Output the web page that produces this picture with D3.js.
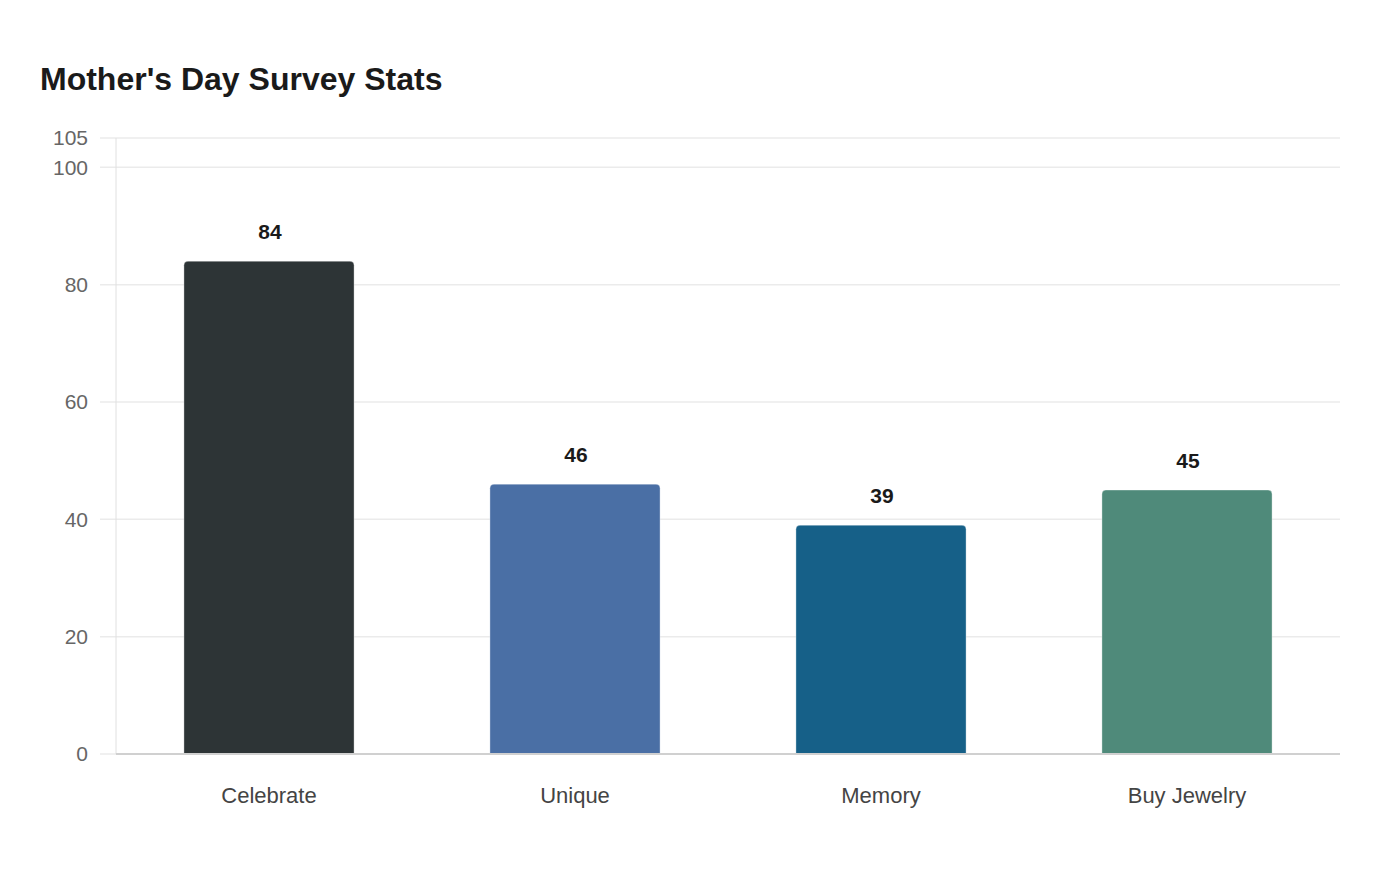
<!DOCTYPE html>
<html>
<head>
<meta charset="utf-8">
<script src="https://cdn.jsdelivr.net/npm/d3@7"></script>
<style>
  body { margin: 0; background: #fff; }
  text { font-family: "Liberation Sans", Arial, sans-serif; }
</style>
</head>
<body>
<div id="chart"></div>
<script>
var categories = ["Celebrate", "Unique", "Memory", "Buy Jewelry"];
var values = [84, 46, 39, 45];
var colors = ["#2d3436", "#4a6fa5", "#166088", "#4f8a7a"];
var yTicks = [0, 20, 40, 60, 80, 100, 105];

var width = 1400, height = 880;
var margin = { top: 138, right: 60, bottom: 126, left: 116 };
var innerW = width - margin.left - margin.right,
    innerH = height - margin.top - margin.bottom;

var svg = d3.select("#chart").append("svg")
    .attr("width", width)
    .attr("height", height);

svg.append("text")
    .attr("x", 40)
    .attr("y", 90)
    .style("font-size", "32px")
    .style("font-weight", "bold")
    .style("fill", "#1a1a1a")
    .text("Mother's Day Survey Stats");

var g = svg.append("g")
    .attr("transform", "translate(" + margin.left + "," + margin.top + ")");

var x = d3.scaleBand().domain(categories).range([0, innerW]).paddingInner(0.444).paddingOuter(0.222);
var y = d3.scaleLinear().domain([0, 105]).range([innerH, 0]);

// grid
g.selectAll(".grid")
    .data(yTicks)
  .enter().append("line")
    .attr("x1", -16)
    .attr("x2", innerW)
    .attr("y1", function(d) { return y(d); })
    .attr("y2", function(d) { return y(d); })
    .style("stroke", "#ebebeb")
    .style("stroke-width", 1.5);

// y axis line
g.append("line")
    .attr("x1", 0).attr("x2", 0)
    .attr("y1", 0).attr("y2", innerH)
    .style("stroke", "#e0e0e0")
    .style("stroke-width", 1);

var yAxis = g.append("g")
    .call(d3.axisLeft(y).tickValues(yTicks).tickSize(0).tickPadding(28));
yAxis.select(".domain").remove();
yAxis.selectAll("text")
    .style("font-size", "21px")
    .style("fill", "#666")
    .style("font-family", "Liberation Sans, Arial, sans-serif");

// bars with rounded top corners
var r = 4;
function barPath(d, i) {
  var x0 = x(categories[i]), w = x.bandwidth(),
      y0 = y(d), y1 = y(0);
  return "M" + x0 + "," + y1 +
    "V" + (y0 + r) +
    "Q" + x0 + "," + y0 + " " + (x0 + r) + "," + y0 +
    "H" + (x0 + w - r) +
    "Q" + (x0 + w) + "," + y0 + " " + (x0 + w) + "," + (y0 + r) +
    "V" + y1 + "Z";
}

g.selectAll(".bar")
    .data(values)
  .enter().append("path")
    .attr("d", barPath)
    .style("fill", function(d, i) { return colors[i]; })
    .style("stroke", "rgba(255,255,255,0.35)")
    .style("stroke-width", 1);

// x axis line
g.append("line")
    .attr("x1", 0).attr("x2", innerW)
    .attr("y1", innerH).attr("y2", innerH)
    .style("stroke", "#d0d0d0")
    .style("stroke-width", 2);

var xAxis = g.append("g")
    .attr("transform", "translate(0," + innerH + ")")
    .call(d3.axisBottom(x).tickSize(0).tickPadding(33));
xAxis.select(".domain").remove();
xAxis.selectAll("text")
    .style("font-size", "22px")
    .style("fill", "#444")
    .style("font-family", "Liberation Sans, Arial, sans-serif");

// value labels
g.selectAll(".label")
    .data(values)
  .enter().append("text")
    .attr("x", function(d, i) { return x(categories[i]) + x.bandwidth() / 2 + 1; })
    .attr("y", function(d) { return y(d) - 22; })
    .attr("text-anchor", "middle")
    .style("font-size", "21px")
    .style("font-weight", "bold")
    .style("fill", "#1a1a1a")
    .text(function(d) { return d; });
</script>
</body>
</html>
